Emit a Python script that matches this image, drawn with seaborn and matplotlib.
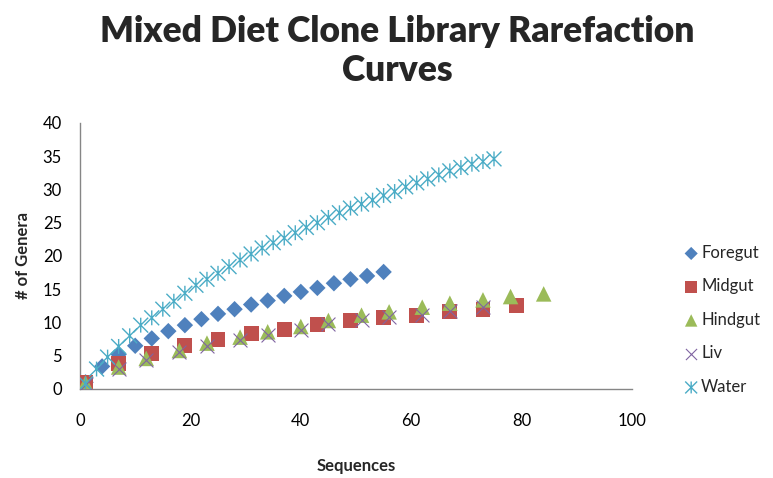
import numpy as np
import pandas as pd
import matplotlib
matplotlib.use("Agg")
import matplotlib.pyplot as plt
from matplotlib.path import Path
import seaborn as sns

# Data
foregut_x = [1, 4, 7, 10, 13, 16, 19, 22, 25, 28, 31, 34, 37, 40, 43, 46, 49, 52, 55]
foregut_y = [1.0, 3.4, 5.2, 6.5, 7.6, 8.7, 9.6, 10.5, 11.3, 12.0, 12.7, 13.3, 14.0, 14.6,
             15.2, 15.9, 16.5, 17.0, 17.6]

midgut_x = [1, 7, 13, 19, 25, 31, 37, 43, 49, 55, 61, 67, 73, 79]
midgut_y = [1.0, 3.8, 5.4, 6.5, 7.5, 8.4, 9.0, 9.7, 10.3, 10.8, 11.1, 11.6, 12.0, 12.5]

hindgut_x = [1, 7, 12, 18, 23, 29, 34, 40, 45, 51, 56, 62, 67, 73, 78, 84]
hindgut_y = [0.9, 3.3, 4.6, 5.8, 6.9, 7.8, 8.6, 9.4, 10.3, 11.1, 11.6, 12.3, 12.9, 13.4, 13.9, 14.3]

liv_x = [1, 7, 12, 18, 23, 29, 34, 40, 45, 51, 56, 62, 67, 73]
liv_y = [0.8, 3.0, 4.3, 5.5, 6.5, 7.3, 8.1, 8.9, 9.7, 10.4, 10.8, 11.2, 11.8, 12.3]

water_x = list(range(1, 76, 2))
water_y = [0.8, 3.0, 4.8, 6.4, 8.0, 9.6, 10.7, 12.0, 13.2, 14.4, 15.6, 16.5, 17.4, 18.4,
           19.4, 20.3, 21.2, 22.0, 22.7, 23.5, 24.3, 25.0, 25.8, 26.5, 27.2, 27.8, 28.4,
           29.1, 29.7, 30.4, 31.0, 31.6, 32.2, 32.8, 33.3, 33.8, 34.2, 34.6]

x_ticks = [0, 20, 40, 60, 80, 100]
y_ticks = [0, 5, 10, 15, 20, 25, 30, 35, 40]

sns.set_style("white")
plt.rcParams['font.family'] = ['Lato', 'DejaVu Sans']

# Excel style asterisk: X with a vertical bar
asterisk = Path([(-1, -1), (1, 1), (-1, 1), (1, -1), (0, -1), (0, 1)],
                [Path.MOVETO, Path.LINETO, Path.MOVETO, Path.LINETO, Path.MOVETO, Path.LINETO])

series = [
    ("Foregut", foregut_x, foregut_y, "D", 70, "#4F81BD"),
    ("Midgut", midgut_x, midgut_y, "s", 115, "#C0504D"),
    ("Hindgut", hindgut_x, hindgut_y, "^", 125, "#9BBB59"),
    ("Liv", liv_x, liv_y, "x", 100, "#8064A2"),
    ("Water", water_x, water_y, asterisk, 115, "#4BACC6"),
]

fig = plt.figure(figsize=(7.73, 4.78), dpi=100)
ax = fig.add_axes([0.1035, 0.1862, 0.7141, 0.5565])

for name, xs, ys, marker, size, color in series:
    df = pd.DataFrame({"Sequences": xs, "Genera": ys})
    if marker in ("D", "s", "^"):
        kw = dict(facecolor=color, edgecolor="none", linewidth=1.0)
    elif marker == "x":
        kw = dict(facecolor=color, linewidth=0.8)
    else:
        kw = dict(facecolor="none", edgecolor=color, linewidth=1.0)
    sns.scatterplot(data=df, x="Sequences", y="Genera", ax=ax, marker=marker, s=size,
                    color=color, label=name, zorder=3, **kw)

ax.set_xlim(0, 100)
ax.set_ylim(0, 40)
ax.set_xticks(x_ticks)
ax.set_yticks(y_ticks)
ax.tick_params(axis="both", length=0, labelsize=12, labelcolor="black")
ax.tick_params(axis="x", pad=17)
ax.tick_params(axis="y", pad=13)

for side in ["top", "right"]:
    ax.spines[side].set_visible(False)
for side in ["left", "bottom"]:
    ax.spines[side].set_color("#868686")
    ax.spines[side].set_linewidth(1.0)

ax.set_xlabel("Sequences", fontsize=12, fontweight="bold")
ax.set_ylabel("# of Genera", fontsize=12, fontweight="bold")
ax.xaxis.set_label_coords(0.5, -0.26)
ax.yaxis.set_label_coords(-0.088, 0.5)

ax.legend(loc="center left", bbox_to_anchor=(1.077, 0.26), frameon=False, fontsize=12,
          handletextpad=0.1, handlelength=1.0, labelspacing=1.05, borderpad=0,
          markerscale=0.8)

fig.suptitle("Mixed Diet Clone Library Rarefaction\nCurves", x=0.514, y=0.968,
             fontsize=25.5, fontweight="heavy", va="top", linespacing=1.2)

plt.savefig("out.png", dpi=100)
